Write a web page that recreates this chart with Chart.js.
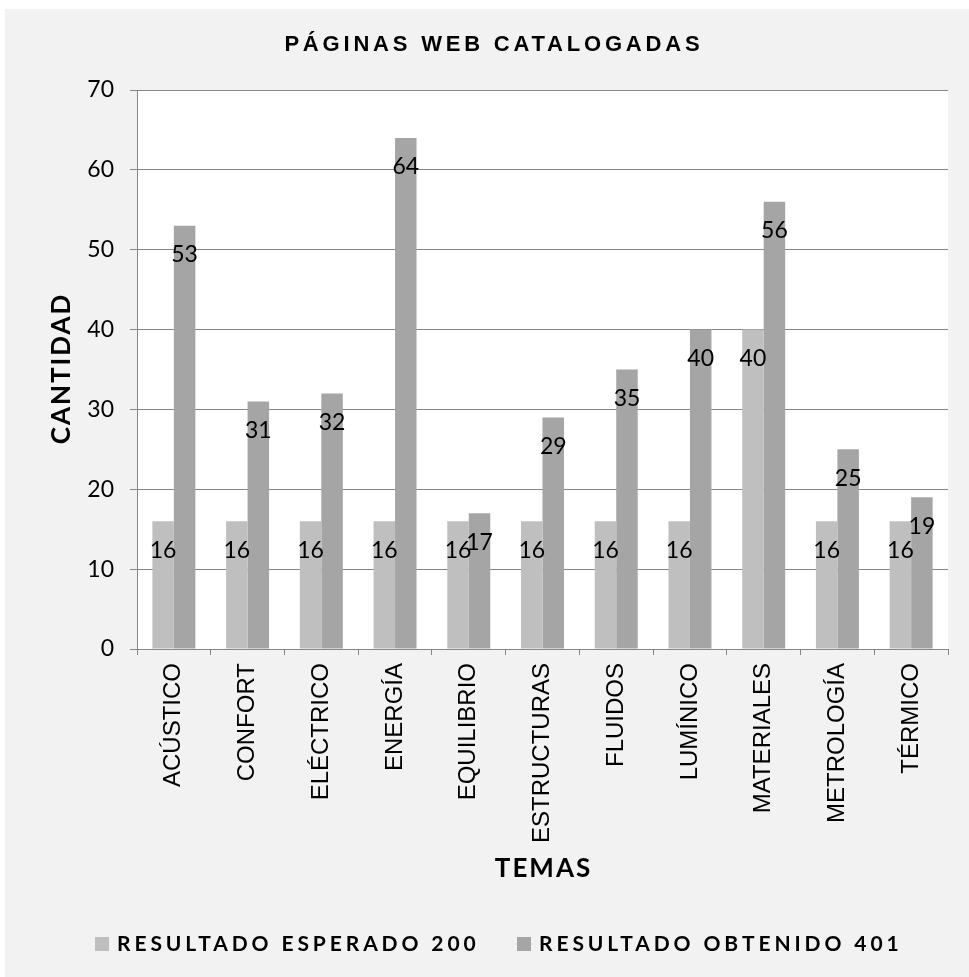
<!DOCTYPE html>
<html>
<head>
<meta charset="utf-8">
<script src="https://cdn.jsdelivr.net/npm/chart.js@4.4.0/dist/chart.umd.min.js"></script>
<style>
  html, body { margin: 0; padding: 0; background: #fff; }
</style>
</head>
<body>
<canvas id="myChart" width="969" height="977"></canvas>
<script>
const temas = ["ACÚSTICO", "CONFORT", "ELÉCTRICO", "ENERGÍA", "EQUILIBRIO", "ESTRUCTURAS", "FLUIDOS", "LUMÍNICO", "MATERIALES", "METROLOGÍA", "TÉRMICO"];
const esperado = [16, 16, 16, 16, 16, 16, 16, 16, 40, 16, 16];
const obtenido = [53, 31, 32, 64, 17, 29, 35, 40, 56, 25, 19];
const yTicks = [0, 10, 20, 30, 40, 50, 60, 70];
const seriesNames = ["RESULTADO ESPERADO 200", "RESULTADO OBTENIDO 401"];
const seriesColors = ["#bfbfbf", "#a5a5a5"];
const chartTitle = "PÁGINAS WEB CATALOGADAS";
const yTitle = "CANTIDAD";
const xTitle = "TEMAS";

// draws text with letter spacing, centred on x
function spacedText(ctx, text, x, y, spacing) {
  ctx.letterSpacing = spacing + "px";
  const w = ctx.measureText(text).width - spacing;
  ctx.fillText(text, x - w / 2, y);
  ctx.letterSpacing = "0px";
}

const frame = {
  id: "frame",
  beforeDraw(chart) {
    const { ctx, chartArea } = chart;
    ctx.save();
    ctx.fillStyle = "#fff";
    ctx.fillRect(0, 0, chart.width, chart.height);
    ctx.fillStyle = "#f2f2f2";
    ctx.fillRect(5, 9, chart.width - 5, chart.height - 9);
    ctx.fillStyle = "#fff";
    ctx.fillRect(chartArea.left, chartArea.top, chartArea.right - chartArea.left, chartArea.bottom - chartArea.top);
    ctx.restore();
  },
  afterDraw(chart) {
    const { ctx, chartArea } = chart;
    ctx.save();
    ctx.fillStyle = "#000";
    ctx.textAlign = "left";
    ctx.textBaseline = "middle";

    // title
    ctx.font = "bold 22px 'Liberation Sans', Arial";
    spacedText(ctx, chartTitle, 492, 45, 3.8);

    // axis titles
    ctx.font = "bold 26px Lato";
    spacedText(ctx, xTitle, (chartArea.left + chartArea.right) / 2, 869, 2);
    ctx.save();
    ctx.translate(62, (chartArea.top + chartArea.bottom) / 2);
    ctx.rotate(-Math.PI / 2);
    spacedText(ctx, yTitle, 0, 0, 2);
    ctx.restore();

    // legend
    ctx.font = "bold 21px Lato";
    const boxes = [95, 517];
    seriesNames.forEach((name, i) => {
      ctx.fillStyle = seriesColors[i];
      ctx.fillRect(boxes[i], 937, 14, 14);
      ctx.fillStyle = "#000";
      ctx.letterSpacing = "3.9px";
      ctx.fillText(name, boxes[i] + 22, 944);
      ctx.letterSpacing = "0px";
    });
    ctx.restore();
  }
};

const valueLabels = {
  id: "valueLabels",
  afterDatasetsDraw(chart) {
    const ctx = chart.ctx;
    ctx.save();
    ctx.font = "23px Lato";
    ctx.fillStyle = "#000";
    ctx.textAlign = "center";
    ctx.textBaseline = "middle";
    chart.data.datasets.forEach((ds, i) => {
      chart.getDatasetMeta(i).data.forEach((bar, j) => {
        ctx.fillText(ds.data[j], bar.x, bar.y + 29);
      });
    });
    ctx.restore();
  }
};

function drawChart() {
  const ctx = document.getElementById("myChart");
  new Chart(ctx, {
    type: "bar",
    data: {
      labels: temas,
      datasets: [
        { label: seriesNames[0], data: esperado, backgroundColor: seriesColors[0], categoryPercentage: 0.583, barPercentage: 1 },
        { label: seriesNames[1], data: obtenido, backgroundColor: seriesColors[1], categoryPercentage: 0.583, barPercentage: 1 },
      ],
    },
    options: {
      responsive: false,
      animation: false,
      layout: { padding: { left: 0, right: 21, top: 90, bottom: 0 } },
      plugins: {
        legend: { display: false },
        title: { display: false },
        tooltip: { enabled: false },
      },
      scales: {
        x: {
          grid: { offset: true, drawOnChartArea: false, tickLength: 6, color: "#868686" },
          border: { color: "#868686" },
          ticks: {
            autoSkip: false,
            minRotation: 90,
            maxRotation: 90,
            padding: 8,
            color: "#000",
            font: { family: "'Liberation Sans', Arial", size: 24 },
          },
          afterFit: (s) => {
            s.height = 328;
            s.paddingLeft = 0;
            s.paddingRight = 0;
          },
        },
        y: {
          min: 0,
          max: 70,
          afterBuildTicks: (s) => {
            s.ticks = yTicks.map((v) => ({ value: v }));
          },
          grid: { color: "#868686", tickLength: 7 },
          border: { color: "#868686" },
          ticks: { padding: 16, color: "#000", font: { family: "Lato", size: 23 } },
          afterFit: (s) => {
            s.width = 137;
            s.paddingTop = 0;
            s.paddingBottom = 0;
          },
        },
      },
    },
    plugins: [frame, valueLabels],
  });
}

Promise.all([
  document.fonts.load("23px Lato"),
  document.fonts.load("bold 21px Lato"),
  document.fonts.load("24px 'Liberation Sans'"),
  document.fonts.load("bold 22px 'Liberation Sans'"),
]).then(drawChart, drawChart);
</script>
</body>
</html>
